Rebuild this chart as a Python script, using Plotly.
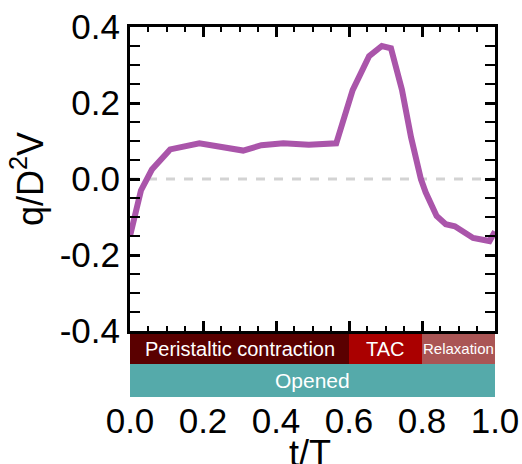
import plotly.graph_objects as go

t_vals = [0.0, 0.03, 0.06, 0.11, 0.19, 0.31, 0.36, 0.42, 0.49, 0.565, 0.61, 0.655, 0.69, 0.715, 0.745, 0.77, 0.797, 0.81, 0.84, 0.865, 0.89, 0.94, 0.985, 1.0]
q_vals = [-0.15, -0.03, 0.025, 0.078, 0.094, 0.075, 0.089, 0.094, 0.090, 0.094, 0.234, 0.323, 0.350, 0.344, 0.235, 0.11, 0.0, -0.035, -0.097, -0.119, -0.124, -0.155, -0.163, -0.138]

phase_names = ["Peristaltic contraction", "TAC", "Relaxation"]
phase_start = [0.0, 0.6, 0.8]
phase_end = [0.6, 0.8, 1.0]
phase_colors = ["#5a0000", "#aa0000", "#aa5555"]
phase_font = [20, 20, 15]

valve_name = "Opened"
valve_start = 0.0
valve_end = 1.0
valve_color = "#55aaaa"

x_ticks = [0.0, 0.2, 0.4, 0.6, 0.8, 1.0]
y_ticks = [-0.4, -0.2, 0.0, 0.2, 0.4]

FONT = "Liberation Sans, Arial, sans-serif"

fig = go.Figure()
fig.add_trace(go.Scatter(x=[0, 1], y=[0, 0], mode="lines",
                         line=dict(color="#d3d3d3", width=3, dash="dash"),
                         hoverinfo="skip", showlegend=False))
fig.add_trace(go.Scatter(x=t_vals, y=q_vals, mode="lines",
                         line=dict(color="#aa55aa", width=6),
                         showlegend=False))
# trace on xaxis2 to activate the lower tick-label axis
fig.add_trace(go.Scatter(x=[0, 1], y=[0, 0], xaxis="x2", yaxis="y",
                         mode="lines", line=dict(width=0), showlegend=False,
                         hoverinfo="skip"))

top_bar = [0.089, 0.173]
low_bar = [0.0, 0.089]
shapes = []
annotations = []
for name, s, e, c, fs in zip(phase_names, phase_start, phase_end, phase_colors, phase_font):
    shapes.append(dict(type="rect", xref="x", yref="paper", x0=s, x1=e,
                       y0=top_bar[0], y1=top_bar[1], fillcolor=c, line=dict(width=0), layer="below"))
    annotations.append(dict(x=(s + e) / 2, y=sum(top_bar) / 2, xref="x", yref="paper",
                            yanchor="middle", text=name, showarrow=False,
                            font=dict(family=FONT, size=fs, color="white")))
shapes.append(dict(type="rect", xref="x", yref="paper", x0=valve_start, x1=valve_end,
                   y0=low_bar[0], y1=low_bar[1], fillcolor=valve_color, line=dict(width=0), layer="below"))
annotations.append(dict(x=(valve_start + valve_end) / 2, y=sum(low_bar) / 2, xref="x", yref="paper",
                        yanchor="middle", text=valve_name, showarrow=False,
                        font=dict(family=FONT, size=21, color="white")))
# x-axis title placed as an annotation (partly cut at the bottom edge, as in the reference)
annotations.append(dict(x=0.494, y=-0.093, xref="paper", yref="paper", yanchor="top",
                        text="t/T", showarrow=False, font=dict(family=FONT, size=36, color="black")))

axis_common = dict(showgrid=False, zeroline=False, linecolor="black", linewidth=3,
                   ticks="inside", tickcolor="black", tickwidth=2.5, ticklen=10,
                   mirror="allticks", automargin=False)

fig.update_layout(
    width=522, height=464,
    margin=dict(l=130, r=27, t=27, b=67),
    paper_bgcolor="white", plot_bgcolor="white",
    font=dict(family=FONT, size=35, color="black"),
    shapes=shapes, annotations=annotations,
    xaxis=dict(range=[0, 1], tickvals=x_ticks, showticklabels=False,
               minor=dict(dtick=0.05, tick0=0, ticks="inside", ticklen=5, tickwidth=2, tickcolor="black"),
               anchor="y", **axis_common),
    xaxis2=dict(range=[0, 1], overlaying="x", anchor="free", position=0, side="bottom",
                tickvals=x_ticks, ticktext=[f"{v:.1f}" for v in x_ticks], automargin=False,
                showline=False, showgrid=False, zeroline=False, ticks="",
                ticklabeloverflow="allow", tickfont=dict(size=35)),
    yaxis=dict(range=[-0.4, 0.4], domain=[0.178, 1], tickvals=y_ticks,
               ticktext=[f"{v:.1f}" for v in y_ticks], ticklabeloverflow="allow",
               minor=dict(dtick=0.05, tick0=0, ticks="inside", ticklen=5, tickwidth=2, tickcolor="black"),
               tickfont=dict(size=35),
               title=dict(text="q/D<sup>2</sup>V", font=dict(size=36), standoff=6),
               **axis_common),
)

fig.write_html("out.html", config={"displayModeBar": False},
               post_script="document.body.style.margin='0';document.body.style.overflow='hidden';")
